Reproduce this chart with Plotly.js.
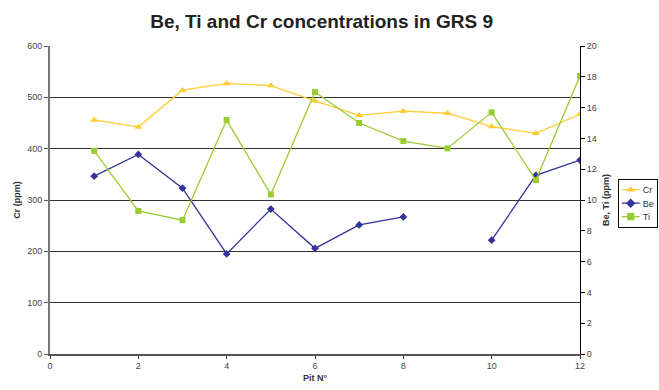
<!DOCTYPE html>
<html>
<head>
<meta charset="utf-8">
<script src="https://cdn.plot.ly/plotly-3.0.1.min.js"></script>
<style>html,body{margin:0;padding:0;background:#fff;}#chart{width:659px;height:390px;}</style>
</head>
<body>
<div id="chart"></div>
<script>
const pits = [1, 2, 3, 4, 5, 6, 7, 8, 9, 10, 11, 12];
const cr = [456, 442, 514, 527, 523, 493, 465, 473, 469, 443, 430, 467];
const be = [11.55, 12.96, 10.77, 6.5, 9.41, 6.86, 8.38, 8.9, null, 7.39, 11.6, 12.59];
const ti = [13.19, 9.29, 8.69, 15.19, 10.36, 17.01, 15.0, 13.83, 13.35, 15.69, 11.29, 18.05];
const xTicks = [0, 2, 4, 6, 8, 10, 12];
const leftTicks = [0, 100, 200, 300, 400, 500, 600];
const rightTicks = [0, 2, 4, 6, 8, 10, 12, 14, 16, 18, 20];

const font = 'Arial, "Liberation Sans", sans-serif';

const traces = [
  {x: pits, y: cr, name: 'Cr', type: 'scatter', mode: 'lines+markers', yaxis: 'y',
   line: {color: '#FFCC33', width: 1.3}, marker: {symbol: 'triangle-up', size: 7, color: '#FFCC33'}},
  {x: pits, y: be, name: 'Be', type: 'scatter', mode: 'lines+markers', yaxis: 'y2', connectgaps: false,
   line: {color: '#333399', width: 1.3}, marker: {symbol: 'diamond', size: 6, color: '#333399'}},
  {x: pits, y: ti, name: 'Ti', type: 'scatter', mode: 'lines+markers', yaxis: 'y2',
   line: {color: '#99CC33', width: 1.3}, marker: {symbol: 'square', size: 6, color: '#99CC33'}}
];

const layout = {
  width: 659, height: 390,
  margin: {l: 50, r: 79, t: 46, b: 36, autoexpand: false},
  paper_bgcolor: '#fff', plot_bgcolor: '#fff',
  font: {family: font, size: 9, color: '#333'},
  title: {text: '<b>Be, Ti and Cr concentrations in GRS 9</b>', font: {family: font, size: 19, color: '#222'},
          x: 0.488, xanchor: 'center', y: 0.945, yanchor: 'middle'},
  showlegend: true,
  legend: {x: 1.0755, y: 0.568, xanchor: 'left', yanchor: 'top', bordercolor: '#000', borderwidth: 1.6,
           font: {family: font, size: 15, color: '#333'}, itemwidth: 30, tracegroupgap: 0,
           itemsizing: 'constant', bgcolor: '#fff'},
  xaxis: {range: [0, 12], tickvals: xTicks, ticktext: xTicks.map(String), ticks: 'outside', ticklen: 3,
          tickcolor: '#333', showline: true, linecolor: '#555', linewidth: 1.5, showgrid: false, zeroline: false,
          tickfont: {size: 9, color: '#444'},
          title: {text: '<b>Pit N°</b>', font: {size: 9, color: '#333'}, standoff: 4}},
  xaxis2: {range: [0, 12], overlaying: 'x', side: 'bottom', anchor: 'y', tickvals: xTicks, ticks: 'inside', ticklen: 3,
           tickcolor: '#333', showticklabels: false, showline: false, showgrid: false, zeroline: false},
  yaxis: {range: [0, 600], tickvals: leftTicks, ticktext: leftTicks.map(String), ticks: 'outside', ticklen: 4,
          tickcolor: '#555', showline: true, linecolor: '#777', linewidth: 2, showgrid: true,
          gridcolor: '#333', gridwidth: 1, zeroline: false, tickfont: {size: 9, color: '#444'},
          title: {text: '<b>Cr (ppm)</b>', font: {size: 9, color: '#333'}, standoff: 5}},
  yaxis2: {range: [0, 20], overlaying: 'y', side: 'right', tickvals: rightTicks, ticktext: rightTicks.map(String),
           ticks: 'outside', ticklen: 4, tickcolor: '#000', showline: true, linecolor: '#000', linewidth: 1,
           showgrid: false, zeroline: false, tickfont: {size: 9, color: '#444'},
           title: {text: '<b>Be, Ti (ppm)</b>', font: {size: 9, color: '#333'}, standoff: 6}},
  yaxis3: {range: [0, 20], overlaying: 'y', side: 'right', tickvals: rightTicks, ticks: 'inside', ticklen: 4,
           tickcolor: '#000', showticklabels: false, showline: false, showgrid: false, zeroline: false}
};

Plotly.newPlot('chart', traces, layout, {displayModeBar: false, staticPlot: true}).then(function (gd) {
  // shrink the legend to the compact size of the original chart
  const leg = gd.querySelector('g.legend');
  if (leg) {
    const s = 0.6;
    const bb = leg.getBBox();
    const w = bb.width * s;
    const x0 = Math.min(620, 657 - w);
    leg.setAttribute('transform', 'translate(' + x0 + ',179) scale(' + s + ')');
    leg.querySelectorAll('path.js-line').forEach(function (p) { p.style.strokeWidth = '2px'; });
  }
});
</script>
</body>
</html>
